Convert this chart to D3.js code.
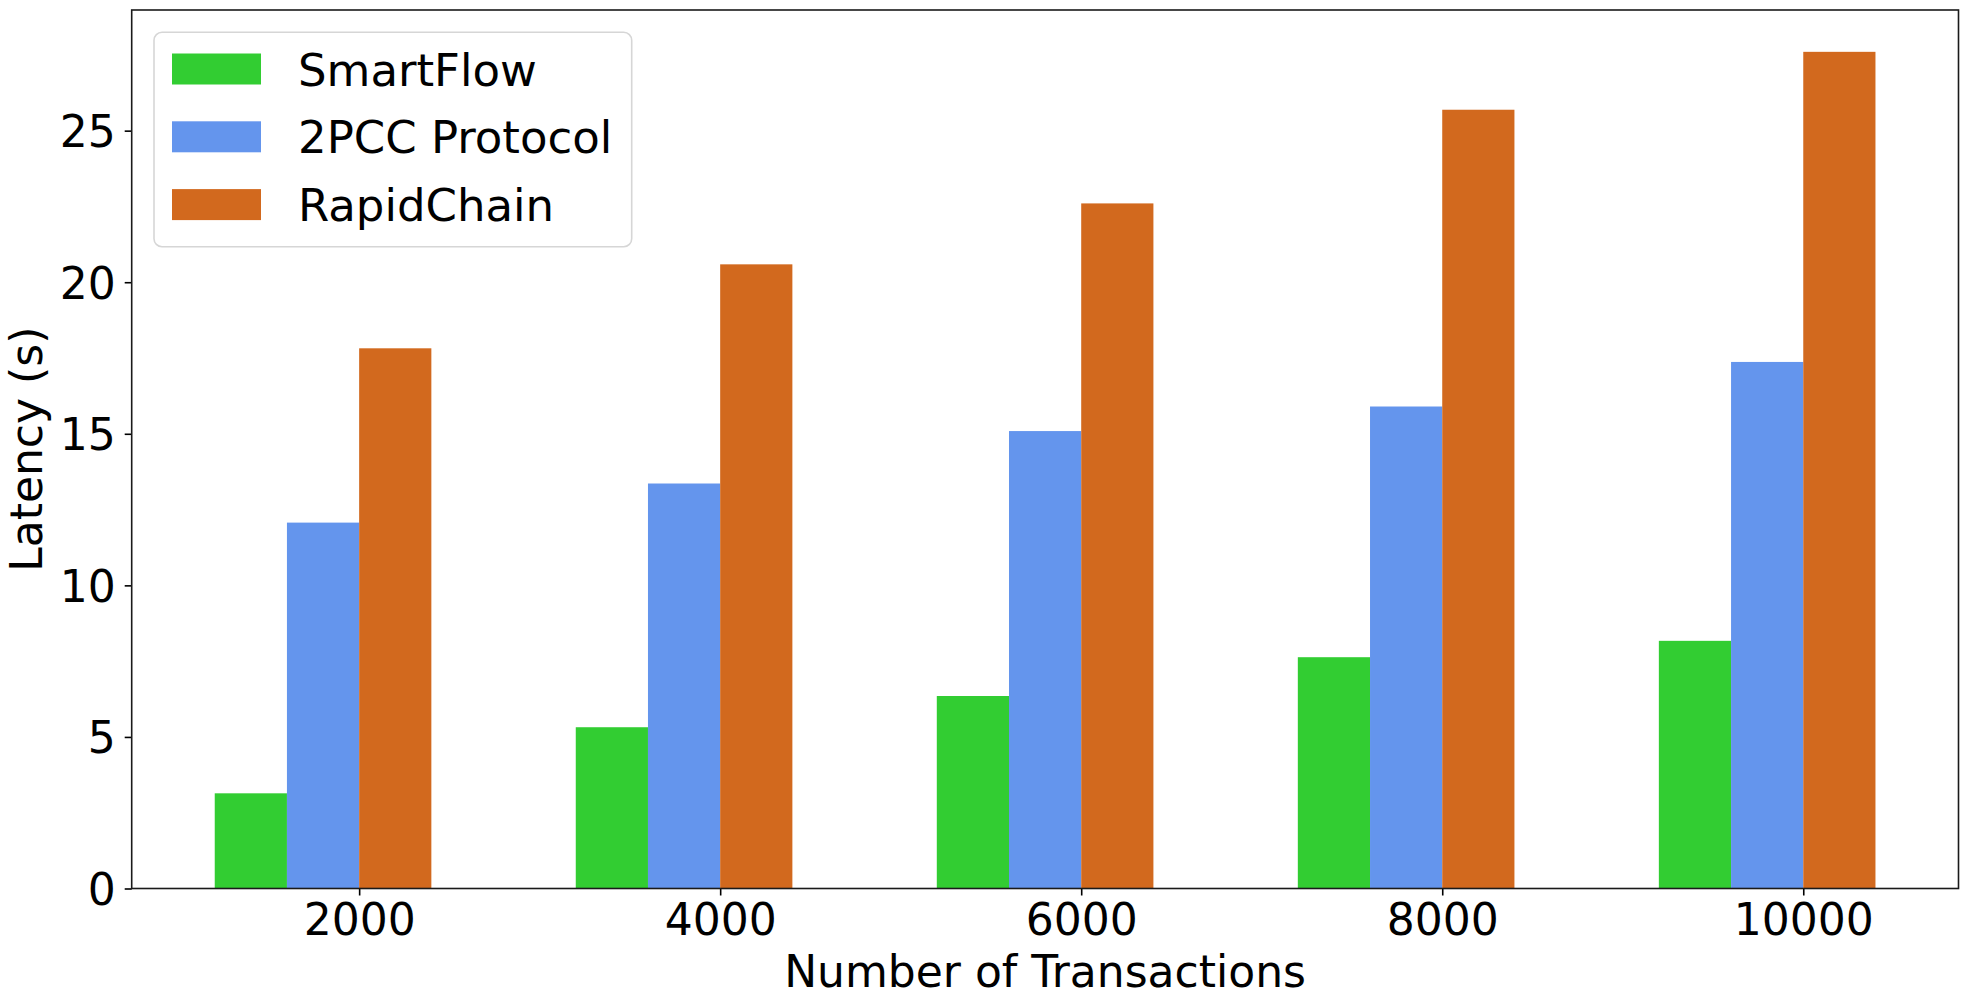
<!DOCTYPE html>
<html>
<head>
<meta charset="utf-8">
<script src="https://cdn.jsdelivr.net/npm/d3@7"></script>
<style>
  html, body { margin: 0; padding: 0; background: #fff; }
  svg { display: block; }
  text { font-family: "DejaVu Sans", sans-serif; fill: #000; }
</style>
</head>
<body>
<svg id="chart" width="1969" height="998"></svg>
<script>
const categories = ["2000", "4000", "6000", "8000", "10000"];
const seriesNames = ["SmartFlow", "2PCC Protocol", "RapidChain"];
const smartFlow = [3.14, 5.32, 6.35, 7.63, 8.17];
const pcc2 = [12.07, 13.36, 15.09, 15.90, 17.37];
const rapidChain = [17.82, 20.59, 22.60, 25.69, 27.60];
const yTicks = [0, 5, 10, 15, 20, 25];
const colors = ["#32CD32", "#6495ED", "#D2691E"];
const xLabel = "Number of Transactions";
const yLabel = "Latency (s)";

(function () {
const series = [smartFlow, pcc2, rapidChain];
const barWidth = 0.2;
const offsets = [-0.4, -0.2, 0.0];
const fs = 44;
const lfs = 45;

const pL = 131.7, pR = 1958.5, pT = 10, pB = 888.5;
const svg = d3.select("#chart");

const x = d3.scaleLinear().domain([-0.63, 4.43]).range([pL, pR]);
const yMax = d3.max(rapidChain) * 1.05;
const y = d3.scaleLinear().domain([0, yMax]).range([pB, pT]);

// bars
series.forEach((vals, s) => {
  svg.append("g").selectAll("rect").data(vals).enter().append("rect")
    .attr("x", (d, i) => x(i + offsets[s]))
    .attr("width", (d, i) => x(i + offsets[s] + barWidth) - x(i + offsets[s]))
    .attr("y", d => y(d))
    .attr("height", d => y(0) - y(d))
    .attr("fill", colors[s]);
});

// axes
const xAxis = d3.axisBottom(x).tickValues(d3.range(categories.length))
  .tickFormat(i => categories[i]).tickSize(7).tickPadding(8);
const gx = svg.append("g").attr("transform", `translate(0,${pB})`).call(xAxis);
gx.select(".domain").remove();
gx.selectAll(".tick line").attr("stroke", "#000").attr("stroke-width", 1.6);
gx.selectAll(".tick text").attr("font-size", fs).attr("font-family", "DejaVu Sans").attr("dy", "0.71em").attr("fill", "#000");

const yAxis = d3.axisLeft(y).tickValues(yTicks).tickFormat(d3.format("d")).tickSize(7).tickPadding(9);
const gy = svg.append("g").attr("transform", `translate(${pL},0)`).call(yAxis);
gy.select(".domain").remove();
gy.selectAll(".tick line").attr("stroke", "#000").attr("stroke-width", 1.6);
gy.selectAll(".tick text").attr("font-size", fs).attr("font-family", "DejaVu Sans").attr("dy", "0.36em").attr("fill", "#000");

// frame
svg.append("rect").attr("x", pL).attr("y", pT)
  .attr("width", pR - pL).attr("height", pB - pT)
  .attr("fill", "none").attr("stroke", "#1a1a1a").attr("stroke-width", 1.6);

// axis labels
svg.append("text").attr("x", (pL + pR) / 2).attr("y", 987)
  .attr("text-anchor", "middle").attr("font-size", fs).text(xLabel);
svg.append("text").attr("transform", `translate(42,${(pT + pB) / 2}) rotate(-90)`)
  .attr("text-anchor", "middle").attr("font-size", fs).text(yLabel);

// legend
const lg = svg.append("g");
lg.append("rect").attr("x", 154).attr("y", 32.3).attr("width", 477.7).attr("height", 214.4)
  .attr("rx", 8).attr("ry", 8).attr("fill", "#fff").attr("fill-opacity", 0.8)
  .attr("stroke", "#d6d6d6").attr("stroke-width", 1.6);
seriesNames.forEach((name, s) => {
  const cy = 69 + s * 67.8;
  lg.append("rect").attr("x", 172).attr("y", cy - 15.5).attr("width", 89).attr("height", 31)
    .attr("fill", colors[s]);
  lg.append("text").attr("x", 298).attr("y", cy + 16.5).attr("font-size", lfs).text(name);
});
})();
</script>
</body>
</html>
